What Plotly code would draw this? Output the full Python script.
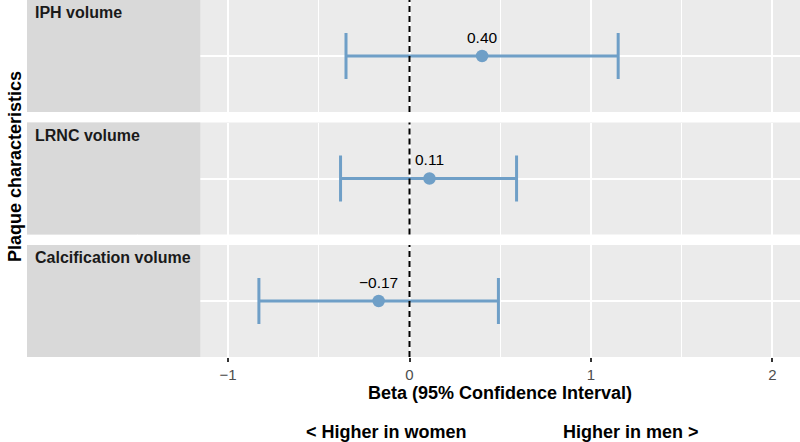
import plotly.graph_objects as go
from plotly.subplots import make_subplots

characteristics = ["IPH volume", "LRNC volume", "Calcification volume"]
beta = [0.40, 0.11, -0.17]
ci_lower = [-0.35, -0.38, -0.83]
ci_upper = [1.15, 0.59, 0.49]
x_ticks = [-1, 0, 1, 2]

FONT = "Liberation Sans, Arial, Helvetica, sans-serif"
BLUE = "#6f9fc7"
PANEL_BG = "#ebebeb"
STRIP_BG = "#d9d9d9"

W, H = 800, 442
ML, MR, MT, MB = 27, 0, 0, 85
plot_h = H - MT - MB
gap = 10.5

fig = make_subplots(rows=3, cols=1, shared_xaxes=True,
                    vertical_spacing=gap / plot_h)

x_range = [-2.108, 2.152]
strip_right = -1.153

for i, name in enumerate(characteristics):
    r = i + 1
    b = beta[i]
    # strip background (drawn as a filled trace so it covers the grid)
    fig.add_trace(go.Scatter(
        x=[x_range[0] - 1, strip_right, strip_right, x_range[0] - 1, x_range[0] - 1],
        y=[-2, -2, 2, 2, -2], mode="lines", fill="toself",
        fillcolor=STRIP_BG, line=dict(width=0, color=STRIP_BG),
        showlegend=False, hoverinfo="skip"), row=r, col=1)

    fig.add_trace(go.Scatter(
        x=[b], y=[0], mode="markers",
        marker=dict(size=12.5, color=BLUE),
        error_x=dict(type="data", symmetric=False,
                     array=[ci_upper[i] - b], arrayminus=[b - ci_lower[i]],
                     thickness=3, width=23, color=BLUE),
        showlegend=False, hoverinfo="skip"), row=r, col=1)

    xa = "x" if r == 1 else f"x{r}"
    ya = "y" if r == 1 else f"y{r}"
    # reference line at 0
    fig.add_shape(type="line", xref=xa, yref=f"{ya} domain",
                  x0=0, x1=0, y0=0, y1=1,
                  line=dict(color="black", width=2, dash="6px,4px"),
                  layer="above")
    # strip label
    fig.add_annotation(text=f"<b>{name}</b>", xref=f"{xa} domain", yref=f"{ya} domain",
                       x=0, y=1, xanchor="left", yanchor="top", xshift=6, yshift=-2,
                       showarrow=False, font=dict(family=FONT, size=16, color="#1a1a1a"))
    # value label
    lab = f"{b:.2f}".replace("-", "\u2212")
    fig.add_annotation(text=lab, xref=xa, yref=ya, x=b, y=0,
                       yshift=19, showarrow=False,
                       font=dict(family=FONT, size=15.5, color="black"))

    fig.update_yaxes(row=r, col=1, range=[-1, 1], tickvals=[0], showticklabels=False,
                     showgrid=True, gridcolor="white", gridwidth=2,
                     zeroline=False, showline=False, ticks="", fixedrange=True)
    fig.update_xaxes(row=r, col=1, range=x_range, tickvals=x_ticks,
                     showgrid=True, gridcolor="white", gridwidth=2,
                     minor=dict(tickvals=[-1.5, -0.5, 0.5, 1.5], showgrid=True,
                                gridcolor="white", gridwidth=1),
                     zeroline=False, showline=False,
                     showticklabels=(r == 3),
                     ticks="outside" if r == 3 else "", ticklen=4, tickwidth=1.5,
                     tickcolor="#333333",
                     tickfont=dict(family=FONT, size=15, color="#4d4d4d"))

# axis titles and annotations
fig.add_annotation(text="<b>Beta (95% Confidence Interval)</b>", xref="x3", yref="paper",
                   x=0.5, y=0, yanchor="middle", yshift=-36, showarrow=False,
                   font=dict(family=FONT, size=18, color="black"))
fig.add_annotation(text="<b>&lt; Higher in women</b>", xref="x3", yref="paper",
                   x=-0.128, y=0, yanchor="middle", yshift=-75, showarrow=False,
                   font=dict(family=FONT, size=18, color="black"))
fig.add_annotation(text="<b>Higher in men &gt;</b>", xref="x3", yref="paper",
                   x=1.222, y=0, yanchor="middle", yshift=-75, showarrow=False,
                   font=dict(family=FONT, size=18, color="black"))
fig.add_annotation(text="<b>Plaque characteristics</b>", xref="paper", yref="paper",
                   x=0, xshift=-12, y=1 - (167 / plot_h), xanchor="center", yanchor="middle",
                   textangle=-90, showarrow=False,
                   font=dict(family=FONT, size=18, color="black"))

fig.update_layout(width=W, height=H,
                  margin=dict(l=ML, r=MR, t=MT, b=MB),
                  paper_bgcolor="white", plot_bgcolor=PANEL_BG,
                  font=dict(family=FONT))

fig.write_html("out.html", config={"displayModeBar": False},
               post_script="document.body.style.margin='0';document.body.style.overflow='hidden';")
